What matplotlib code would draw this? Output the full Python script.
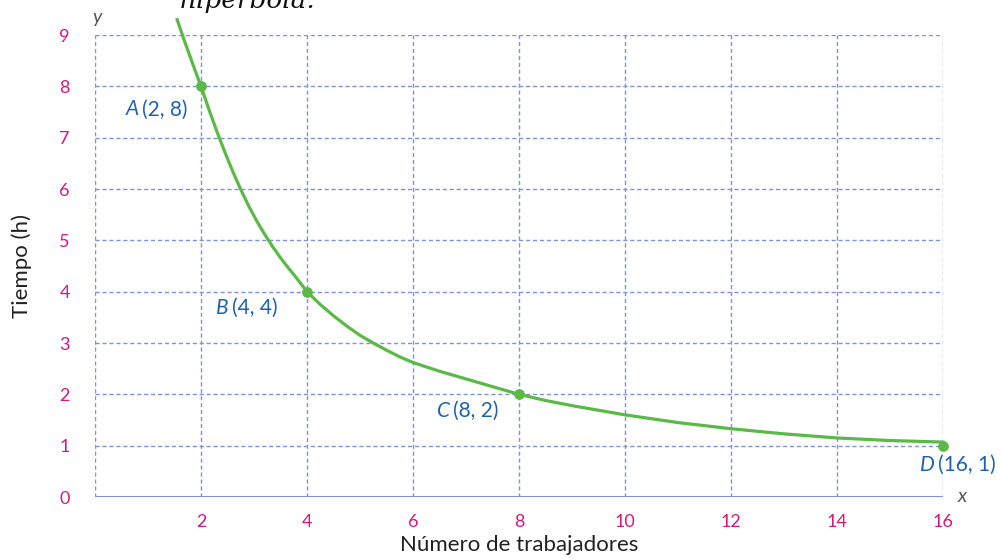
import matplotlib
matplotlib.use('Agg')
import matplotlib.pyplot as plt

# curve (worker count vs hours)
curve_x = [1.55, 1.7, 1.85, 2.0, 2.15, 2.3, 2.45, 2.6, 2.75, 2.9, 3.05, 3.2, 3.35, 3.5, 3.65, 3.8, 4.0,
           4.25, 4.5, 4.75, 5.0, 5.25, 5.5, 5.75, 6.0, 6.5, 7.0, 7.5, 8.0,
           8.5, 9.0, 9.5, 10.0, 11.0, 12.0, 13.0, 14.0, 15.0, 16.0]
curve_y = [9.3, 8.85, 8.42, 8.0, 7.55, 7.12, 6.72, 6.34, 5.99, 5.67, 5.38, 5.12, 4.88, 4.66, 4.46, 4.27, 4.0,
           3.75, 3.53, 3.33, 3.15, 3.0, 2.86, 2.73, 2.62, 2.45, 2.3, 2.15, 2.0,
           1.88, 1.78, 1.69, 1.6, 1.45, 1.33, 1.23, 1.15, 1.1, 1.07]

pt_names = ['A', 'B', 'C', 'D']
pt_x = [2, 4, 8, 16]
pt_y = [8, 4, 2, 1]
# label anchor positions (data coords)
lab_x = [0.82, 2.52, 6.7, 15.85]
lab_y = [7.55, 3.68, 1.68, 0.62]

x_ticks = [2, 4, 6, 8, 10, 12, 14, 16]
y_ticks = [0, 1, 2, 3, 4, 5, 6, 7, 8, 9]

green = '#5bb947'
grid_c = '#7f93db'
mag = '#d4187c'
blue = '#1f62ad'

plt.rcParams['font.family'] = ['Lato', 'DejaVu Sans']

fig = plt.figure(figsize=(10.03, 5.6), dpi=100)
ax = fig.add_axes([0.0947, 0.1125, 0.8455, 0.825])
ax.set_xlim(0, 16)
ax.set_ylim(0, 9)
for s in ax.spines.values():
    s.set_visible(False)

for xv in [0] + x_ticks:
    ax.axvline(xv, color=grid_c, lw=1, ls=(0, (3, 2)), zorder=1)
for yv in y_ticks[1:]:
    ax.axhline(yv, color=grid_c, lw=1, ls=(0, (3, 2)), zorder=1)
ax.axhline(0, color=grid_c, lw=1.5, zorder=2)

ax.plot(curve_x, curve_y, color=green, lw=2.3, zorder=3, clip_on=False, solid_joinstyle='round')
ax.scatter(pt_x, pt_y, s=45, color=green, zorder=4, clip_on=False)

for n, lx, ly in zip(pt_names, lab_x, lab_y):
    ax.text(lx, ly, n, color=blue, fontsize=15, style='italic', ha='right', va='center')
for px, py, lx, ly in zip(pt_x, pt_y, lab_x, lab_y):
    ax.text(lx + 0.06, ly, '(%d, %d)' % (px, py), color=blue, fontsize=15, ha='left', va='center')

ax.set_xticks(x_ticks)
ax.set_yticks(y_ticks)
ax.tick_params(length=0, labelsize=13, labelcolor=mag)
ax.tick_params(axis='x', pad=12)
ax.tick_params(axis='y', pad=18)

ax.set_xlabel('Número de trabajadores', fontsize=16, color='#222222', labelpad=4)
ax.set_ylabel('Tiempo (h)', fontsize=16, color='#222222', labelpad=20)

fig.text(97 / 1003, 1 - 17 / 560, 'y', color='#555555', fontsize=14, style='italic', ha='center', va='center')
fig.text(962 / 1003, 1 - 497 / 560, 'x', color='#555555', fontsize=14, style='italic', ha='center', va='center')
fig.text(180 / 1003, 1 - 8 / 560, 'hiperbola.', color='#111111', fontsize=19, style='italic',
         family='DejaVu Serif', ha='left', va='baseline')

fig.savefig('out.png', dpi=100)
